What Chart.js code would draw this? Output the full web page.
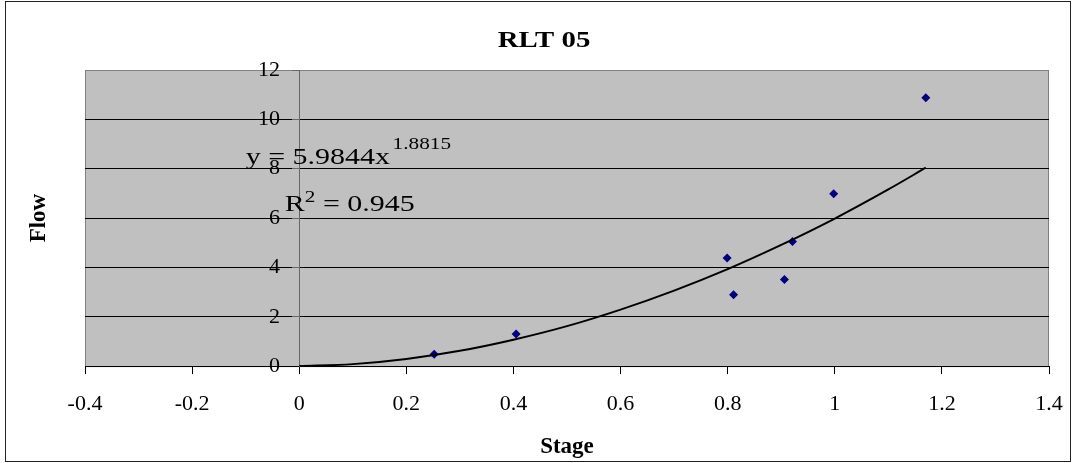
<!DOCTYPE html>
<html>
<head>
<meta charset="utf-8">
<script src="https://cdn.jsdelivr.net/npm/chart.js@4.4.1/dist/chart.umd.min.js"></script>
<style>
  body { margin: 0; background: #fff; }
  canvas { display: block; }
</style>
</head>
<body>
<canvas id="rltChart" width="1073" height="463"></canvas>
<script>
// measured points (stage, flow)
const stage = [0.252, 0.405, 0.799, 0.811, 0.906, 0.921, 0.998, 1.170];
const flow = [0.48, 1.30, 4.38, 2.89, 3.51, 5.05, 6.98, 10.88];

// power trendline
const trendStage = [0, 0.1, 0.2, 0.3, 0.4, 0.5, 0.6, 0.7, 0.8, 0.9, 1.0, 1.1, 1.17];
const trendFlow = [0, 0.08, 0.29, 0.62, 1.07, 1.62, 2.29, 3.06, 3.93, 4.91, 5.98, 7.16, 8.04];

// axis ranges: min, max, step
const xRange = [-0.4, 1.4, 0.2];
const yRange = [0, 12, 2];

const chartTitle = "RLT 05";
const xTitle = "Stage";
const yTitle = "Flow";
// trendline label text
const eqMain = "y = 5.9844x";
const eqPower = "1.8815";
const rLabel = ["R", "2", " = 0.945"];

const serif = "'Liberation Serif', 'Times New Roman', serif";
Chart.defaults.font.family = serif;
Chart.defaults.color = "#000";

function toPoints(xs, ys) {
  return xs.map((v, i) => ({ x: v, y: ys[i] }));
}

// draw a run of text pieces, a bit stretched sideways like the original
function drawRun(ctx, left, base, parts, stretch) {
  ctx.save();
  ctx.translate(left, base);
  ctx.scale(stretch, 1);
  let cx = 0;
  parts.forEach(p => {
    ctx.font = (p.bold ? "bold " : "") + p.size + "px " + serif;
    ctx.fillText(p.text, cx, -(p.rise || 0));
    cx += ctx.measureText(p.text).width + (p.gap || 0);
  });
  ctx.restore();
}

const plotBackground = {
  id: "plotBackground",
  beforeDraw(chart) {
    const ctx = chart.ctx;
    const a = chart.chartArea;
    ctx.save();
    ctx.strokeStyle = "#222";
    ctx.lineWidth = 1;
    ctx.strokeRect(5.5, 1.5, chart.width - 8, chart.height - 3);
    ctx.fillStyle = "#c0c0c0";
    ctx.fillRect(a.left, a.top, a.right - a.left, a.bottom - a.top);
    ctx.strokeStyle = "#808080";
    ctx.strokeRect(a.left + 0.5, a.top + 0.5, a.right - a.left - 1, a.bottom - a.top);
    ctx.restore();
  }
};

const chartText = {
  id: "chartText",
  afterDraw(chart) {
    const ctx = chart.ctx;
    const a = chart.chartArea;
    const xs = chart.scales.x;
    const ys = chart.scales.y;
    ctx.save();
    ctx.fillStyle = "#000";
    ctx.textBaseline = "alphabetic";
    ctx.textAlign = "left";

    // title, centred a little left of the plot like the original
    ctx.font = "bold 24px " + serif;
    const tw = ctx.measureText(chartTitle).width * 1.2;
    drawRun(ctx, 544 - tw / 2, 47, [{ text: chartTitle, size: 24, bold: true }], 1.2);

    drawRun(ctx, xs.getPixelForValue(-0.1), ys.getPixelForValue(8.2), [
      { text: eqMain, size: 24, gap: 2 },
      { text: eqPower, size: 17, rise: 15 }
    ], 1.25);
    drawRun(ctx, xs.getPixelForValue(-0.027), ys.getPixelForValue(6.3), [
      { text: rLabel[0], size: 24 },
      { text: rLabel[1], size: 17, rise: 9 },
      { text: rLabel[2], size: 24 }
    ], 1.25);

    // y axis title
    ctx.translate(39, (a.top + a.bottom) / 2);
    ctx.rotate(-Math.PI / 2);
    ctx.textAlign = "center";
    ctx.textBaseline = "middle";
    ctx.font = "bold 23px " + serif;
    ctx.fillText(yTitle, 0, 0);
    ctx.restore();
  }
};

const ctx = document.getElementById("rltChart");
const myChart = new Chart(ctx, {
  type: "scatter",
  data: {
    datasets: [
      {
        label: "Flow",
        data: toPoints(stage, flow),
        pointStyle: "rectRot",
        pointRadius: 4.5,
        backgroundColor: "#000080",
        borderColor: "#000080",
        borderWidth: 0,
        order: 1
      },
      {
        label: "Power (Flow)",
        data: toPoints(trendStage, trendFlow),
        showLine: true,
        pointRadius: 0,
        borderColor: "#000",
        borderWidth: 2,
        cubicInterpolationMode: "monotone",
        order: 0
      }
    ]
  },
  options: {
    responsive: false,
    animation: false,
    layout: { padding: { left: 85, right: 24, top: 70, bottom: 0 } },
    plugins: {
      legend: { display: false },
      tooltip: { enabled: false },
      title: { display: false }
    },
    scales: {
      x: {
        type: "linear",
        min: xRange[0],
        max: xRange[1],
        ticks: {
          stepSize: xRange[2],
          padding: 3,
          font: { size: 22, lineHeight: 2.45 },
          color: "#000",
          maxRotation: 0,
          autoSkip: false,
          callback: v => String(Number(v.toFixed(1)))
        },
        grid: { drawOnChartArea: false, tickLength: 8, color: "#000" },
        border: { color: "#000" },
        title: {
          display: true,
          text: xTitle,
          font: { size: 23, weight: "bold", lineHeight: 1 },
          color: "#000",
          padding: { top: 2, bottom: 4 }
        }
      },
      y: {
        position: { x: 0 },
        min: yRange[0],
        max: yRange[1],
        ticks: { stepSize: yRange[2], display: false },
        grid: {
          color: c => (c.tick && c.tick.value === yRange[1] ? "#808080" : "#000"),
          tickLength: 7,
          tickColor: "#666"
        },
        border: { color: "#666" }
      },
      // carries the y tick labels, set just left of the tick marks
      yLabels: {
        type: "linear",
        axis: "y",
        position: { x: -0.036 },
        min: yRange[0],
        max: yRange[1],
        ticks: { stepSize: yRange[2], font: { size: 22 }, color: "#000" },
        grid: { display: false },
        border: { display: false }
      }
    }
  },
  plugins: [plotBackground, chartText]
});
</script>
</body>
</html>
